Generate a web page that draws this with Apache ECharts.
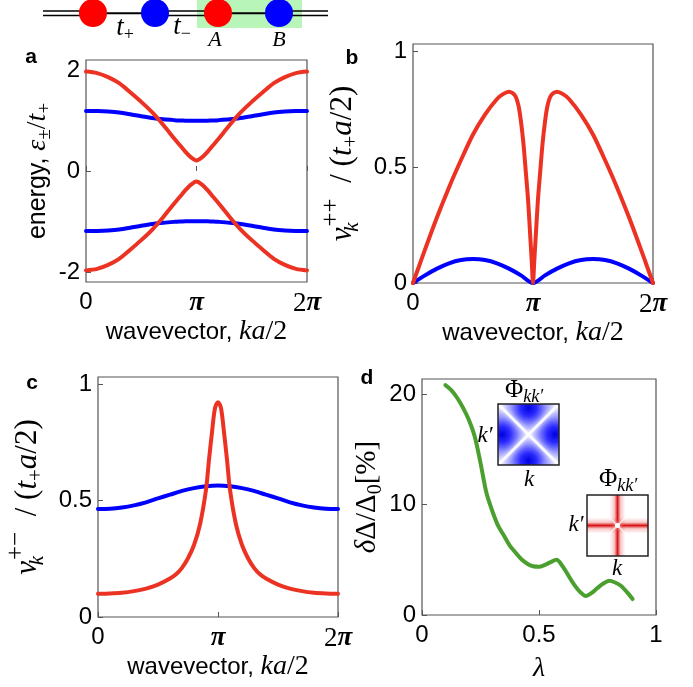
<!DOCTYPE html>
<html><head><meta charset="utf-8">
<script src="https://cdn.jsdelivr.net/npm/echarts@6/dist/echarts.min.js"></script>
<style>html,body{margin:0;padding:0;background:#fff}#c{width:693px;height:687px}</style>
</head><body><div id="c"></div>
<script>
// ---------- data (k in units of pi) ----------
const kBand = [0,0.1,0.2,0.3,0.4,0.5,0.6,0.7,0.8,0.85,0.9,0.95,1,1.05,1.1,1.15,1.2,1.3,1.4,1.5,1.6,1.7,1.8,1.9,2];
const bandRedUp = [1.97,1.94,1.86,1.74,1.56,1.37,1.16,0.91,0.64,0.51,0.38,0.27,0.21,0.27,0.38,0.51,0.64,0.91,1.16,1.37,1.56,1.74,1.86,1.94,1.97];
const bandRedDown = [-1.97,-1.94,-1.86,-1.74,-1.56,-1.37,-1.16,-0.91,-0.64,-0.51,-0.38,-0.27,-0.21,-0.27,-0.38,-0.51,-0.64,-0.91,-1.16,-1.37,-1.56,-1.74,-1.86,-1.94,-1.97];
const bandBlueUp = [1.19,1.187,1.178,1.16,1.125,1.085,1.05,1.025,1.008,1.002,0.998,0.996,0.995,0.996,0.998,1.002,1.008,1.025,1.05,1.085,1.125,1.16,1.178,1.187,1.19];
const bandBlueDown = [-1.19,-1.187,-1.178,-1.16,-1.125,-1.085,-1.05,-1.025,-1.008,-1.002,-0.998,-0.996,-0.995,-0.996,-0.998,-1.002,-1.008,-1.025,-1.05,-1.085,-1.125,-1.16,-1.178,-1.187,-1.19];

const kB = [0,0.05,0.1,0.2,0.3,0.4,0.5,0.6,0.7,0.75,0.8,0.85,0.88,0.9,0.92,0.94,0.96,0.98,0.99,1,1.01,1.02,1.04,1.06,1.08,1.1,1.12,1.15,1.2,1.25,1.3,1.4,1.5,1.6,1.7,1.8,1.9,1.95,2];
const velRedPP = [0,0.072,0.144,0.283,0.412,0.53,0.64,0.726,0.793,0.814,0.824,0.808,0.762,0.695,0.603,0.479,0.35,0.175,0.088,0,0.088,0.175,0.35,0.479,0.603,0.695,0.762,0.808,0.824,0.814,0.793,0.726,0.64,0.53,0.412,0.283,0.144,0.072,0];
const kStep = [0,0.1,0.2,0.3,0.4,0.5,0.6,0.7,0.8,0.9,1,1.1,1.2,1.3,1.4,1.5,1.6,1.7,1.8,1.9,2];
const velBluePP = [0,0.033,0.062,0.085,0.099,0.103,0.099,0.085,0.062,0.033,0,0.033,0.062,0.085,0.099,0.103,0.099,0.085,0.062,0.033,0];

const kC = [0,0.1,0.2,0.3,0.4,0.5,0.6,0.65,0.7,0.75,0.8,0.85,0.9,0.925,0.95,0.975,1,1.025,1.05,1.075,1.1,1.15,1.2,1.25,1.3,1.35,1.4,1.5,1.6,1.7,1.8,1.9,2];
const velRedPM = [0.1,0.101,0.104,0.111,0.122,0.139,0.165,0.183,0.211,0.252,0.309,0.397,0.546,0.675,0.793,0.896,0.922,0.896,0.793,0.675,0.546,0.397,0.309,0.252,0.211,0.183,0.165,0.139,0.122,0.111,0.104,0.101,0.1];
const velBluePM = [0.464,0.465,0.47,0.479,0.492,0.509,0.525,0.541,0.553,0.561,0.564,0.561,0.553,0.541,0.525,0.509,0.492,0.479,0.47,0.465,0.464];

const lambdaVals = [0.1,0.125,0.15,0.175,0.2,0.225,0.25,0.275,0.3,0.325,0.35,0.375,0.4,0.425,0.45,0.475,0.5,0.525,0.55,0.575,0.6,0.625,0.65,0.675,0.7,0.725,0.75,0.775,0.8,0.825,0.85,0.875,0.9];
const gapChange = [20.85,20.4,19.7,18.8,17.7,16.2,13.8,11.1,9.45,8.1,7.2,6.3,5.65,5.05,4.65,4.42,4.38,4.55,4.8,5.0,4.45,3.6,2.75,2.1,1.72,2.0,2.45,2.85,3.1,2.95,2.65,2.1,1.45];

const kTicks = [0,1,2];
const kTickText = ['0','{m|π}','{r|2}{m|π}'];
const energyTicks = [-2,0,2];
const velTicks = [0,0.5,1];
const gapTicks = [0,10,20];
const lambdaTicks = [0,0.5,1];

// ---------- styling helpers ----------
const RED = '#ec3323', BLUE = '#0000ff', GREEN = '#4b9f2f';
const SANS = 'Liberation Sans', SERIF = 'Liberation Serif';
function makeRich(ms, ss, ps) {
  return {
    m:   {fontFamily: SERIF, fontStyle: 'italic', fontSize: ms, color: '#000'},
    r:   {fontFamily: SERIF, fontSize: ms, color: '#000'},
    sub: {fontFamily: SERIF, fontSize: ss, color: '#000', padding: [Math.round(ms * 0.55), 0, 0, 0]},
    sup: {fontFamily: SERIF, fontSize: ps, color: '#000', padding: [0, 0, Math.round(ms * 0.75), 0]},
    kk:  {fontFamily: SERIF, fontStyle: 'italic', fontSize: ss, color: '#000', padding: [Math.round(ms * 0.6), 0, 0, 0], width: 1, align: 'left'}
  };
}
const tickRich = {
  m: {fontFamily: SERIF, fontStyle: 'italic', fontWeight: 'bold', fontSize: 27, color: '#000'},
  r: {fontFamily: SERIF, fontSize: 27, color: '#000'}
};
const pairs = (xs, ys) => xs.map((x, i) => [x, ys[i]]);

function kAxis(idx) {
  return {
    type: 'value', gridIndex: idx, min: 0, max: 2,
    axisLine: {show: false}, splitLine: {show: false},
    axisTick: {inside: true, length: 5, customValues: kTicks, lineStyle: {color: '#555'}},
    axisLabel: {customValues: kTicks, margin: 8, fontFamily: SANS, fontSize: 24, color: '#000',
      formatter: v => kTickText[kTicks.indexOf(Math.round(v))], rich: tickRich},
    name: 'wavevector, {m|ka}{r|/2}', nameLocation: 'middle', nameGap: 36,
    nameTextStyle: {fontFamily: SANS, fontSize: 24, color: '#000', rich: makeRich(28, 18, 18)}
  };
}
function yAx(idx, min, max, ticks, name, gap, sansSize, rich) {
  return {
    type: 'value', gridIndex: idx, min: min, max: max,
    axisLine: {show: false}, splitLine: {show: false},
    axisTick: {inside: true, length: 5, customValues: ticks, lineStyle: {color: '#555'}},
    axisLabel: {customValues: ticks, margin: 6, fontFamily: SANS, fontSize: 24, color: '#000'},
    name: name, nameLocation: 'middle', nameGap: gap,
    nameTextStyle: {fontFamily: SANS, fontSize: sansSize, color: '#000', rich: rich}
  };
}
function line(xi, yi, data, color) {
  return {type: 'line', xAxisIndex: xi, yAxisIndex: yi, data: data, showSymbol: false, smooth: 0.3,
    lineStyle: {width: 4, color: color, cap: 'round'}, itemStyle: {color: color}, animation: false, z: 3};
}

// ---------- schematic & insets (graphic) ----------
const G = [];
const gRich = makeRich(27, 18, 18);
G.push({type: 'rect', shape: {x: 197, y: 0, width: 105, height: 28}, style: {fill: '#b8f5b8'}, z: 1});
[[43,80],[155,217],[279,328]].forEach(s => {
  G.push({type: 'line', shape: {x1: s[0], y1: 11, x2: s[1], y2: 11}, style: {stroke: '#000', lineWidth: 1.3}, z: 2});
  G.push({type: 'line', shape: {x1: s[0], y1: 15.5, x2: s[1], y2: 15.5}, style: {stroke: '#000', lineWidth: 1.3}, z: 2});
});
[[93,155],[217,279]].forEach(s => {
  G.push({type: 'line', shape: {x1: s[0], y1: 13.3, x2: s[1], y2: 13.3}, style: {stroke: '#000', lineWidth: 2}, z: 2});
});
[[93,'#ff0000'],[155,'#0000ff'],[218,'#ff0000'],[279,'#0000ff']].forEach(c => {
  G.push({type: 'circle', shape: {cx: c[0], cy: 13, r: 14}, style: {fill: c[1]}, z: 3});
});
function txt(x, y, text, font, rich) {
  return {type: 'text', x: x, y: y, z: 5,
    style: {text: text, font: font, fill: '#000', align: 'center', verticalAlign: 'middle', rich: rich || gRich}};
}
G.push(txt(125, 28, '{m|t}{sub|+}', 'italic 27px "Liberation Serif"'));
G.push(txt(182, 27, '{m|t}{sub|−}', 'italic 27px "Liberation Serif"'));
G.push(txt(215, 40, 'A', 'italic 22px "Liberation Serif"'));
G.push(txt(279, 40, 'B', 'italic 22px "Liberation Serif"'));

G.push(txt(31, 57, 'a', 'bold 21px "Liberation Sans"'));
G.push(txt(352, 58, 'b', 'bold 21px "Liberation Sans"'));
G.push(txt(32, 383, 'c', 'bold 21px "Liberation Sans"'));
G.push(txt(367, 378, 'd', 'bold 21px "Liberation Sans"'));

const phiRich = {r: {fontFamily: SERIF, fontSize: 25, color: '#000'}, s: {fontFamily: SERIF, fontStyle: 'italic', fontSize: 18, color: '#000', padding: [15,0,0,0]}};
// blue inset
(function () {
  const x0 = 498, y0 = 404, w = 61, cx = x0 + w / 2, cy = y0 + w / 2;
  G.push({type: 'rect', shape: {x: x0, y: y0, width: w, height: w}, style: {fill: '#fff'}, z: 4});
  const stops = [{offset: 0, color: '#0000dd'}, {offset: 0.25, color: '#2a2aff'}, {offset: 0.55, color: '#9a9aff'}, {offset: 0.85, color: '#e6e6ff'}, {offset: 1, color: '#ffffff'}];
  const tris = [
    [[x0, y0], [x0 + w, y0], [cx, cy], cx, y0 + 4],
    [[x0 + w, y0], [x0 + w, y0 + w], [cx, cy], x0 + w - 4, cy],
    [[x0, y0 + w], [x0 + w, y0 + w], [cx, cy], cx, y0 + w - 4],
    [[x0, y0], [x0, y0 + w], [cx, cy], x0 + 4, cy]
  ];
  tris.forEach(t => {
    G.push({type: 'polygon', shape: {points: [t[0], t[1], t[2]]}, z: 4,
      style: {fill: new echarts.graphic.RadialGradient(t[3], t[4], 32, stops, true), stroke: null}});
  });
  G.push({type: 'line', shape: {x1: x0, y1: y0, x2: x0 + w, y2: y0 + w}, z: 4,
    style: {stroke: '#fff', lineWidth: 3, shadowBlur: 5, shadowColor: '#fff', opacity: 0.85}});
  G.push({type: 'line', shape: {x1: x0 + w, y1: y0, x2: x0, y2: y0 + w}, z: 4,
    style: {stroke: '#fff', lineWidth: 3, shadowBlur: 5, shadowColor: '#fff', opacity: 0.85}});
  G.push({type: 'rect', shape: {x: x0, y: y0, width: w, height: w}, z: 4, style: {fill: 'none', stroke: '#222', lineWidth: 1.5}});
  G.push(txt(524, 390, '{r|Φ}{s|kk′}', '25px "Liberation Serif"', phiRich));
  G.push(txt(485, 436, 'k′', 'italic 23px "Liberation Serif"'));
  G.push(txt(529, 480, 'k', 'italic 23px "Liberation Serif"'));
})();
// red inset
(function () {
  const x0 = 587, y0 = 495, w = 61, cx = x0 + w / 2, cy = y0 + w / 2;
  G.push({type: 'rect', shape: {x: x0, y: y0, width: w, height: w}, style: {fill: '#fff'}, z: 4});
  const st = [{offset: 0, color: 'rgba(230,40,40,0)'}, {offset: 0.3, color: 'rgba(230,40,40,0.25)'}, {offset: 0.5, color: 'rgba(215,20,20,1)'}, {offset: 0.7, color: 'rgba(230,40,40,0.25)'}, {offset: 1, color: 'rgba(230,40,40,0)'}];
  G.push({type: 'rect', shape: {x: x0, y: cy - 8, width: w, height: 16}, z: 4, style: {fill: new echarts.graphic.LinearGradient(0, 0, 0, 1, st)}});
  G.push({type: 'rect', shape: {x: cx - 8, y: y0, width: 16, height: w}, z: 4, style: {fill: new echarts.graphic.LinearGradient(0, 0, 1, 0, st)}});
  G.push({type: 'line', shape: {x1: x0, y1: y0, x2: x0 + w, y2: y0 + w}, z: 4, style: {stroke: '#fff', lineWidth: 1.5, opacity: 0.7}});
  G.push({type: 'line', shape: {x1: x0 + w, y1: y0, x2: x0, y2: y0 + w}, z: 4, style: {stroke: '#fff', lineWidth: 1.5, opacity: 0.7}});
  G.push({type: 'circle', shape: {cx: cx, cy: cy, r: 2.5}, z: 4, style: {fill: '#fff', shadowBlur: 4, shadowColor: '#fff'}});
  G.push({type: 'rect', shape: {x: x0, y: y0, width: w, height: w}, z: 4, style: {fill: 'none', stroke: '#222', lineWidth: 1.5}});
  G.push(txt(618, 479, '{r|Φ}{s|kk′}', '25px "Liberation Serif"', phiRich));
  G.push(txt(576, 525, 'k′', 'italic 23px "Liberation Serif"'));
  G.push(txt(617, 569, 'k', 'italic 23px "Liberation Serif"'));
})();

const gridBase = {show: true, borderColor: '#555', borderWidth: 1.2, backgroundColor: 'transparent', containLabel: false, outerBoundsMode: 'none'};
const option = {
  animation: false,
  backgroundColor: '#fff',
  grid: [
    Object.assign({left: 86, top: 60, width: 221, height: 222}, gridBase),
    Object.assign({left: 413, top: 44, width: 240, height: 239}, gridBase),
    Object.assign({left: 98, top: 377, width: 240, height: 240}, gridBase),
    Object.assign({left: 422, top: 379, width: 234, height: 236}, gridBase)
  ],
  xAxis: [
    kAxis(0), kAxis(1), kAxis(2),
    {type: 'value', gridIndex: 3, min: 0, max: 1, interval: 0.5,
      axisLine: {show: false}, splitLine: {show: false},
      axisTick: {inside: true, length: 5, customValues: lambdaTicks, lineStyle: {color: '#555'}},
      axisLabel: {customValues: lambdaTicks, margin: 8, fontFamily: SANS, fontSize: 24, color: '#000'},
      name: '{m|λ}', nameLocation: 'middle', nameGap: 40,
      nameTextStyle: {fontFamily: SANS, fontSize: 24, color: '#000', rich: makeRich(28, 18, 18)}}
  ],
  yAxis: [
    yAx(0, -2.2, 2.2, energyTicks, 'energy, {m|ε}{sub|±}{r|/}{m|t}{sub|+}', 27, 25, makeRich(28, 19, 19)),
    yAx(1, 0, 1.03, velTicks, '{m|v}{kk|k}{sup|++}{r|  / (}{m|t}{sub|+}{m|a}{r|/2)}', 46, 24, makeRich(31, 21, 25)),
    yAx(2, 0, 1.03, velTicks, '{m|v}{kk|k}{sup|+−}{r|  / (}{m|t}{sub|+}{m|a}{r|/2)}', 46, 24, makeRich(31, 21, 25)),
    yAx(3, 0, 21.4, gapTicks, '{m|δ}{r|Δ/Δ}{sub|0}{r|[%]}', 34, 24, makeRich(29, 20, 20))
  ],
  series: [
    line(0, 0, pairs(kBand, bandBlueUp), BLUE),
    line(0, 0, pairs(kBand, bandBlueDown), BLUE),
    line(0, 0, pairs(kBand, bandRedUp), RED),
    line(0, 0, pairs(kBand, bandRedDown), RED),
    line(1, 1, pairs(kStep, velBluePP), BLUE),
    line(1, 1, pairs(kB, velRedPP), RED),
    line(2, 2, pairs(kStep, velBluePM), BLUE),
    line(2, 2, pairs(kC, velRedPM), RED),
    line(3, 3, pairs(lambdaVals, gapChange), GREEN)
  ],
  graphic: {elements: G}
};
const chart = echarts.init(document.getElementById('c'), null, {renderer: 'canvas'});
chart.setOption(option);
</script></body></html>
